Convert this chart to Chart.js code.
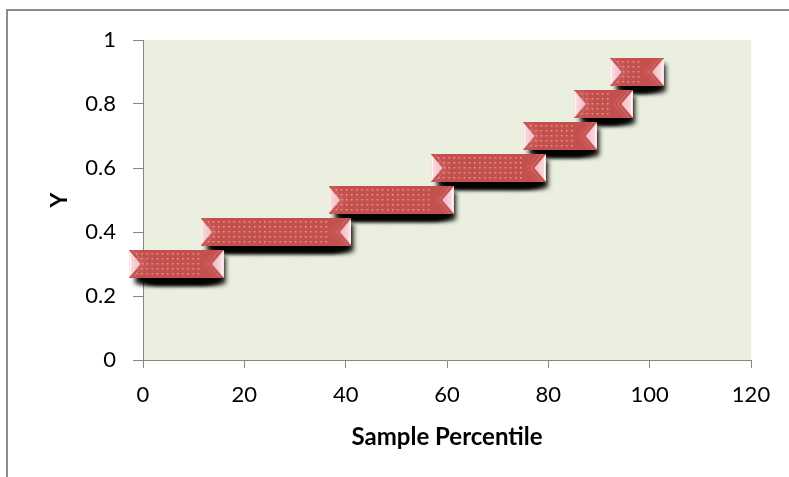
<!DOCTYPE html>
<html>
<head>
<meta charset="utf-8">
<script src="https://cdn.jsdelivr.net/npm/chart.js@4"></script>
<style>
  html, body { margin: 0; padding: 0; background: #ffffff; overflow: hidden; }
  #wrap { position: relative; width: 789px; height: 477px; }
  #frame { position: absolute; left: 6px; top: 9px; width: 900px; height: 600px;
           border: 2px solid #8c8c8c; box-sizing: border-box; }
  #c { position: absolute; left: 0; top: 0; }
</style>
</head>
<body>
<div id="wrap">
  <div id="frame"></div>
  <canvas id="c" width="789" height="477"></canvas>
</div>
<script>
// Sample percentile of each observation (100 observations, ranked)
const samplePercentile = [
  0, 1.01, 2.02, 3.03, 4.04, 5.05, 6.06, 7.07, 8.08, 9.09,
  10.10, 11.11, 12.12, 13.13, 14.14, 15.15, 16.16, 17.17, 18.18, 19.19,
  20.20, 21.21, 22.22, 23.23, 24.24, 25.25, 26.26, 27.27, 28.28, 29.29,
  30.30, 31.31, 32.32, 33.33, 34.34, 35.35, 36.36, 37.37, 38.38, 39.39,
  40.40, 41.41, 42.42, 43.43, 44.44, 45.45, 46.46, 47.47, 48.48, 49.49,
  50.51, 51.52, 52.53, 53.54, 54.55, 55.56, 56.57, 57.58, 58.59, 59.60,
  60.61, 61.62, 62.63, 63.64, 64.65, 65.66, 66.67, 67.68, 68.69, 69.70,
  70.71, 71.72, 72.73, 73.74, 74.75, 75.76, 76.77, 77.78, 78.79, 79.80,
  80.81, 81.82, 82.83, 83.84, 84.85, 85.86, 86.87, 87.88, 88.89, 89.90,
  90.91, 91.92, 92.93, 93.94, 94.95, 95.96, 96.97, 97.98, 98.99, 100
];

// Observed Y value of each observation, sorted ascending
const yValues = [
  0.3, 0.3, 0.3, 0.3, 0.3, 0.3, 0.3, 0.3, 0.3, 0.3,
  0.3, 0.3, 0.3, 0.3, 0.4, 0.4, 0.4, 0.4, 0.4, 0.4,
  0.4, 0.4, 0.4, 0.4, 0.4, 0.4, 0.4, 0.4, 0.4, 0.4,
  0.4, 0.4, 0.4, 0.4, 0.4, 0.4, 0.4, 0.4, 0.4, 0.5,
  0.5, 0.5, 0.5, 0.5, 0.5, 0.5, 0.5, 0.5, 0.5, 0.5,
  0.5, 0.5, 0.5, 0.5, 0.5, 0.5, 0.5, 0.5, 0.5, 0.6,
  0.6, 0.6, 0.6, 0.6, 0.6, 0.6, 0.6, 0.6, 0.6, 0.6,
  0.6, 0.6, 0.6, 0.6, 0.6, 0.6, 0.6, 0.7, 0.7, 0.7,
  0.7, 0.7, 0.7, 0.7, 0.7, 0.7, 0.7, 0.8, 0.8, 0.8,
  0.8, 0.8, 0.8, 0.8, 0.9, 0.9, 0.9, 0.9, 0.9, 0.9
];

const xTicks = [0, 20, 40, 60, 80, 100, 120];
const yTicks = [0, 0.2, 0.4, 0.6, 0.8, 1];

const points = samplePercentile.map((x, i) => ({ x: x, y: yValues[i] }));

// ---- marker images -------------------------------------------------------
const MARK = 28;
const RED = '#C4504E';

function newCanvas(w, h) {
  const c = document.createElement('canvas');
  c.width = w; c.height = h;
  return c;
}

// Plain square marker body with a column of highlight dots
function bodyMarker() {
  const c = newCanvas(MARK, MARK), g = c.getContext('2d');
  g.fillStyle = RED;
  g.fillRect(0, 0, MARK, MARK);
  g.fillStyle = 'rgba(240,170,172,0.85)';
  for (let y = 3; y < MARK - 1; y += 5) g.fillRect(2, y, 1.5, 1.5);
  return c;
}

// Bevelled end facet (left or right side of a run of markers)
function endMarker(side) {
  const c = newCanvas(MARK, MARK), g = c.getContext('2d');
  if (side === 'right') { g.translate(MARK, 0); g.scale(-1, 1); }
  g.save();
  g.beginPath(); g.rect(0, 0, MARK, MARK); g.clip();
  // faint bevel streaks next to the facet
  g.lineWidth = 1;
  for (let k = 2; k >= 1; k--) {
    g.strokeStyle = 'rgba(240,180,186,' + (0.6 - k * 0.2) + ')';
    g.beginPath();
    g.moveTo(4 * k - 1, -1); g.lineTo(4 * k + 11, 14); g.lineTo(4 * k - 1, 29);
    g.stroke();
  }
  g.restore();
  // pink side facet
  const grad = g.createLinearGradient(0, 0, 12, 0);
  grad.addColorStop(0, '#FBE1E4');
  grad.addColorStop(1, '#EFB8BE');
  g.fillStyle = grad;
  g.beginPath(); g.moveTo(0, 0); g.lineTo(12, 14); g.lineTo(0, 28); g.closePath();
  g.fill();
  g.strokeStyle = 'rgba(255,255,255,0.8)';
  g.lineWidth = 1;
  g.beginPath(); g.moveTo(1.5, 2); g.lineTo(1.5, 26); g.stroke();
  g.strokeStyle = 'rgba(200,90,95,0.7)';
  g.beginPath(); g.moveTo(0, 0); g.lineTo(12, 14); g.lineTo(0, 28); g.stroke();
  return c;
}

// Soft drop shadow cast down and to the right
function shadowMarker() {
  const P = 12, c = newCanvas(MARK + 2 * P, MARK + 2 * P), g = c.getContext('2d');
  g.filter = 'blur(2.5px)';
  g.fillStyle = 'rgba(0,0,0,0.9)';
  g.fillRect(P + 6, P + 6, MARK - 4, MARK);
  return c;
}

const bodyImg = bodyMarker();
const leftImg = endMarker('left');
const rightImg = endMarker('right');
const shadowImg = shadowMarker();

function isRunStart(i) { return i === 0 || yValues[i - 1] !== yValues[i]; }
function isRunEnd(i) { return i === yValues.length - 1 || yValues[i + 1] !== yValues[i]; }

// ---- plugins -------------------------------------------------------------
const plotBackground = {
  id: 'plotBackground',
  beforeDraw(chart) {
    const { ctx, chartArea: a } = chart;
    ctx.save();
    ctx.fillStyle = '#EBEFDF';
    ctx.fillRect(a.left, a.top, a.right - a.left, a.bottom - a.top);
    ctx.restore();
  }
};

const FONT = "Lato, 'Open Sans', sans-serif";

new Chart(document.getElementById('c'), {
  type: 'scatter',
  data: {
    datasets: [
      {
        label: 'shadow',
        data: points,
        order: 3,
        clip: false,
        pointStyle: shadowImg,
        pointRadius: 14,
        backgroundColor: 'rgba(0,0,0,0)',
        borderColor: 'rgba(0,0,0,0)'
      },
      {
        label: 'Y',
        data: points,
        order: 2,
        clip: false,
        pointStyle: bodyImg,
        pointRadius: 14,
        backgroundColor: RED,
        borderColor: RED
      },
      {
        label: 'ends',
        data: points,
        order: 1,
        clip: false,
        pointStyle: (ctx) => isRunStart(ctx.dataIndex) ? leftImg : rightImg,
        pointRadius: (ctx) => (isRunStart(ctx.dataIndex) || isRunEnd(ctx.dataIndex)) ? 14 : 0,
        backgroundColor: RED,
        borderColor: RED
      },
      {
        label: 'ends-right',
        data: points,
        order: 0,
        clip: false,
        pointStyle: rightImg,
        pointRadius: (ctx) => (isRunEnd(ctx.dataIndex) && isRunStart(ctx.dataIndex)) ? 14 : 0,
        backgroundColor: RED,
        borderColor: RED
      }
    ]
  },
  options: {
    responsive: false,
    animation: false,
    events: [],
    devicePixelRatio: 1,
    layout: { padding: { left: 0, top: 40, right: 38, bottom: 0 } },
    plugins: {
      legend: { display: false },
      tooltip: { enabled: false }
    },
    scales: {
      x: {
        type: 'linear',
        min: 0, max: 120,
        afterFit(s) { s.height = 117; },
        afterBuildTicks(s) { s.ticks = xTicks.map(v => ({ value: v })); },
        border: { display: true, color: '#868686', width: 1 },
        grid: { display: true, drawOnChartArea: false, drawTicks: true, tickLength: 8, color: '#868686' },
        ticks: {
          color: '#000000',
          padding: 14,
          maxRotation: 0,
          font: { family: FONT, size: 22 },
          callback: (v) => String(v)
        },
        title: {
          display: true,
          text: 'Sample Percentile',
          color: '#000000',
          font: { family: FONT, size: 24, weight: 'bold' },
          padding: { top: 0, bottom: 25 }
        }
      },
      y: {
        type: 'linear',
        min: 0, max: 1,
        afterFit(s) { s.width = 143; },
        afterBuildTicks(s) { s.ticks = yTicks.map(v => ({ value: v })); },
        border: { display: true, color: '#868686', width: 1 },
        grid: { display: true, drawOnChartArea: false, drawTicks: true, tickLength: 10, color: '#868686' },
        ticks: {
          color: '#000000',
          padding: 17,
          font: { family: FONT, size: 22 },
          callback: (v) => String(v)
        },
        title: {
          display: true,
          text: 'Y',
          color: '#000000',
          font: { family: FONT, size: 23, weight: 'bold' },
          padding: { top: 46, bottom: 0 }
        }
      }
    }
  },
  plugins: [plotBackground]
});
</script>
</body>
</html>
